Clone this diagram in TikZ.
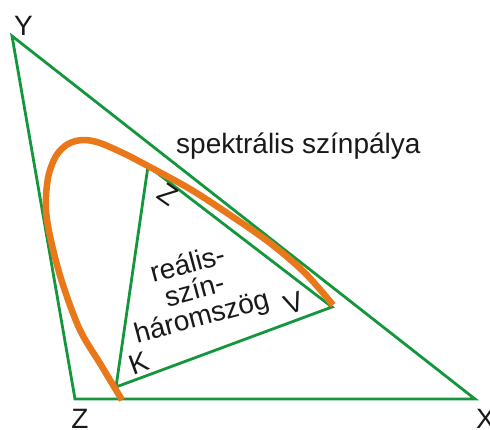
\documentclass[tikz,border=0pt]{standalone}
\usepackage{fontspec}
\setmainfont{Liberation Sans}
\definecolor{tgreen}{RGB}{20,150,60}
\definecolor{torange}{RGB}{232,120,25}
\begin{document}
\begin{tikzpicture}[x=1pt,y=-1pt,
  edge/.style={draw=tgreen,line width=2.8pt,line join=miter},
  locus/.style={draw=torange,line width=6.5pt,line cap=butt},
  lbl/.style={font=\fontsize{28}{30}\selectfont,inner sep=0pt,text=black!90}]
\useasboundingbox (0,0) rectangle (490,429);
% outer triangle
\coordinate (Y) at (12,36);
\coordinate (Z) at (75,399);
\coordinate (X) at (475,399);
% inner triangle
\coordinate (Zi) at (148,166);
\coordinate (Ki) at (116,387);
\coordinate (Vi) at (332,307);
\draw[edge] (Y) -- (Z) -- (X) -- cycle;
\draw[edge] (Zi) -- (Ki) -- (Vi) -- cycle;
% spectral locus
\draw[locus] plot[smooth,tension=0.55] coordinates {(122,400) (101,365) (80,330) (63,285) (52,245) (46,210) (48,178) (56,156) (68,144) (83,140) (100,143) (125,154) (148,166) (190,189) (230,215) (270,243) (305,273) (333,305)};
% labels
\node[lbl,anchor=base] (lY) at (23.5,35) {Y};
\node[lbl,anchor=base] (lZ) at (80,428) {Z};
\node[lbl,anchor=base west] (lX) at (476,428) {X};
\node[lbl,anchor=base west] (lspec) at (176,153) {spektrális színpálya};
\node[lbl,rotate=-35] (lZi) at (168,195) {Z};
\node[lbl,rotate=20] (lVi) at (294,303) {V};
\node[lbl,rotate=20] (lKi) at (139,363) {K};
\node[lbl,font=\fontsize{28}{27}\selectfont,align=center,rotate=15] (lreal) at (195,292) {reális-\\szín-\\háromszög};
\end{tikzpicture}
\end{document}
